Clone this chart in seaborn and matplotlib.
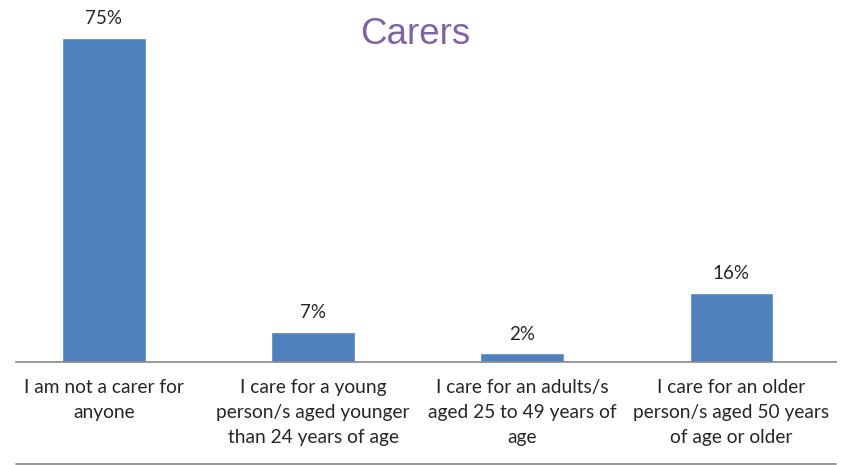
import matplotlib
matplotlib.use("Agg")
import matplotlib.pyplot as plt
import seaborn as sns
import pandas as pd

categories = [
    "I am not a carer for\nanyone",
    "I care for a young\nperson/s aged younger\nthan 24 years of age",
    "I care for an adults/s\naged 25 to 49 years of\nage",
    "I care for an older\nperson/s aged 50 years\nof age or older",
]
values = [75, 7, 2, 16]
value_labels = ["75%", "7%", "2%", "16%"]

sns.set_theme(style="white")
plt.rcParams['font.family'] = ['Lato', 'DejaVu Sans']

df = pd.DataFrame({"cat": categories, "val": values})

fig = plt.figure(figsize=(8.41, 4.65), dpi=100)
ax = fig.add_axes([16/841, 1-362/465, (836-16)/841, (362-10)/465])
sns.barplot(data=df, x="cat", y="val", color="#4F81BD", width=0.40,
            saturation=1, ax=ax)
ax.set_xlim(-0.42, 3.5)
ax.set_ylim(0, 352/4.32)
for i, (v, lab) in enumerate(zip(values, value_labels)):
    ax.text(i, v + 2.5, lab, ha="center", va="bottom", fontsize=13.5, color="#262626")

ax.set_xlabel("")
ax.set_ylabel("")
ax.set_yticks([])
ax.tick_params(axis="x", length=0, pad=12, labelsize=13.8, labelcolor="#262626")
for lbl in ax.get_xticklabels():
    lbl.set_linespacing(1.6)
    lbl.set_va("top")
for s in ["top", "right", "left"]:
    ax.spines[s].set_visible(False)
ax.spines["bottom"].set_color("#868686")
ax.spines["bottom"].set_linewidth(1.2)

fig.text(415/841, 1-35/465, "Carers", ha="center", va="center", fontsize=26.5,
         color="#8064A2", family=["Liberation Sans", "DejaVu Sans"])
fig.add_artist(plt.Line2D([16/841, 836/841], [1-464/465, 1-464/465],
                          transform=fig.transFigure, color="#868686", lw=1.2))

fig.savefig("out.png", dpi=100)
